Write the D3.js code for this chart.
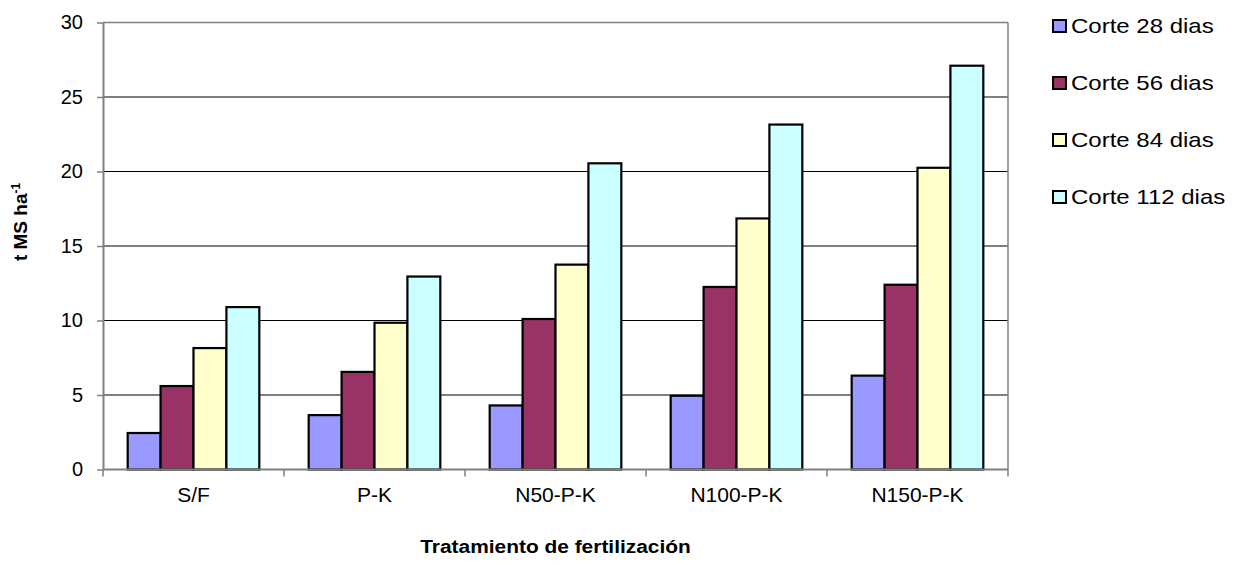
<!DOCTYPE html>
<html>
<head>
<meta charset="utf-8">
<script src="https://cdn.jsdelivr.net/npm/d3@7"></script>
<style>
  body { margin: 0; background: #fff; }
  svg { display: block; font-family: "Liberation Sans", Arial, sans-serif; }
</style>
</head>
<body>
<div id="output"></div>
<script>
(function () {

"use strict";

var categories = [ "S/F", "P-K", "N50-P-K", "N100-P-K", "N150-P-K" ]
var seriesNames = [ "Corte 28 dias", "Corte 56 dias", "Corte 84 dias", "Corte 112 dias" ]
var corte28 = [ 2.45, 3.65, 4.3, 4.95, 6.3 ]
var corte56 = [ 5.6, 6.55, 10.1, 12.25, 12.4 ]
var corte84 = [ 8.15, 9.85, 13.75, 16.85, 20.25 ]
var corte112 = [ 10.9, 12.95, 20.55, 23.15, 27.1 ]
var yTicks = [ 0, 5, 10, 15, 20, 25, 30 ]
var colors = [ "#9999ff", "#993366", "#ffffcc", "#ccffff" ]

var series = [ corte28, corte56, corte84, corte112 ]

var width = 1239
  , height = 565
  , left = 103
  , right = 1008
  , top = 22.5
  , bottom = 469.5

var svg = d3.select("#output").append("svg").attr("width", width).attr("height", height)

var x = d3.scaleBand().domain(categories).range([left, right])
var xs = d3.scaleBand().domain(d3.range(series.length)).range([0, x.bandwidth()])
  .paddingInner(0).paddingOuter(0.75)
var y = d3.scaleLinear().domain([0, 30]).range([bottom, top])

// Gridlines
svg.append("g").selectAll("line").data(yTicks.slice(1)).enter().append("line")
  .attr("x1", left).attr("x2", right)
  .attr("y1", function (d) { return y(d) }).attr("y2", function (d) { return y(d) })
  .style("stroke", function (d) { return d === 30 ? "#808080" : "#000" })
  .style("stroke-width", function (d) { return d === 30 ? 1.5 : 1 })

// Right border
svg.append("line")
  .attr("x1", right).attr("x2", right).attr("y1", top).attr("y2", bottom)
  .style("stroke", "#808080").style("stroke-width", 1.5)

// Bars
var groups = svg.append("g").selectAll("g").data(categories).enter().append("g")
  .attr("transform", function (d) { return "translate(" + x(d) + ",0)" })

groups.selectAll("rect")
  .data(function (d, i) { return series.map(function (s, j) { return { s: j, v: s[i] } }) })
  .enter().append("rect")
  .attr("x", function (d) { return xs(d.s) })
  .attr("width", xs.bandwidth())
  .attr("y", function (d) { return y(d.v) })
  .attr("height", function (d) { return bottom - y(d.v) })
  .style("fill", function (d) { return colors[d.s] })
  .style("stroke", "#000").style("stroke-width", 2.2)

// Y axis
var yAxis = svg.append("g").attr("transform", "translate(" + left + ",0)")
  .call(d3.axisLeft(y).tickValues(yTicks).tickSize(6).tickPadding(14).tickSizeOuter(0))
yAxis.select(".domain").style("stroke", "#808080").style("stroke-width", 2)
yAxis.selectAll(".tick line").style("stroke", "#808080").style("stroke-width", 1.5)
yAxis.selectAll("text").style("font-size", "20px").style("fill", "#000")

// X axis: ticks at category boundaries
var xAxis = svg.append("g").attr("transform", "translate(0," + bottom + ")")
xAxis.append("line").attr("x1", left).attr("x2", right)
  .style("stroke", "#808080").style("stroke-width", 2)
xAxis.selectAll("line.tk").data(categories.concat([null])).enter().append("line")
  .attr("class", "tk")
  .attr("x1", function (d, i) { return left + i * x.step() })
  .attr("x2", function (d, i) { return left + i * x.step() })
  .attr("y1", 0).attr("y2", 7)
  .style("stroke", "#808080").style("stroke-width", 1.5)
xAxis.selectAll("text").data(categories).enter().append("text")
  .attr("x", function (d) { return x(d) + x.bandwidth() / 2 })
  .attr("y", 32)
  .attr("text-anchor", "middle")
  .style("font-size", "21px")
  .text(function (d) { return d })

// Axis titles
svg.append("text")
  .attr("transform", "translate(" + (left + right) / 2 + ",553) scale(1.1,1)")
  .attr("text-anchor", "middle")
  .style("font-size", "19px").style("font-weight", "bold")
  .text("Tratamiento de fertilización")

var yTitle = svg.append("text")
  .attr("transform", "translate(27,222) rotate(-90)")
  .attr("text-anchor", "middle")
  .style("font-size", "19px").style("font-weight", "bold")
yTitle.append("tspan").text("t MS ha")
yTitle.append("tspan").attr("dy", -7).style("font-size", "12px").text("-1")

// Legend
var legend = svg.append("g").selectAll("g").data(seriesNames).enter().append("g")
  .attr("transform", function (d, i) { return "translate(1053," + (26 + i * 57) + ")" })
legend.append("rect")
  .attr("x", 0).attr("y", -6).attr("width", 13).attr("height", 12)
  .style("fill", function (d, i) { return colors[i] })
  .style("stroke", "#000").style("stroke-width", 2)
legend.append("text")
  .attr("transform", "translate(18,7) scale(1.2,1)")
  .style("font-size", "20px")
  .text(function (d) { return d })

}())
</script>
</body>
</html>
